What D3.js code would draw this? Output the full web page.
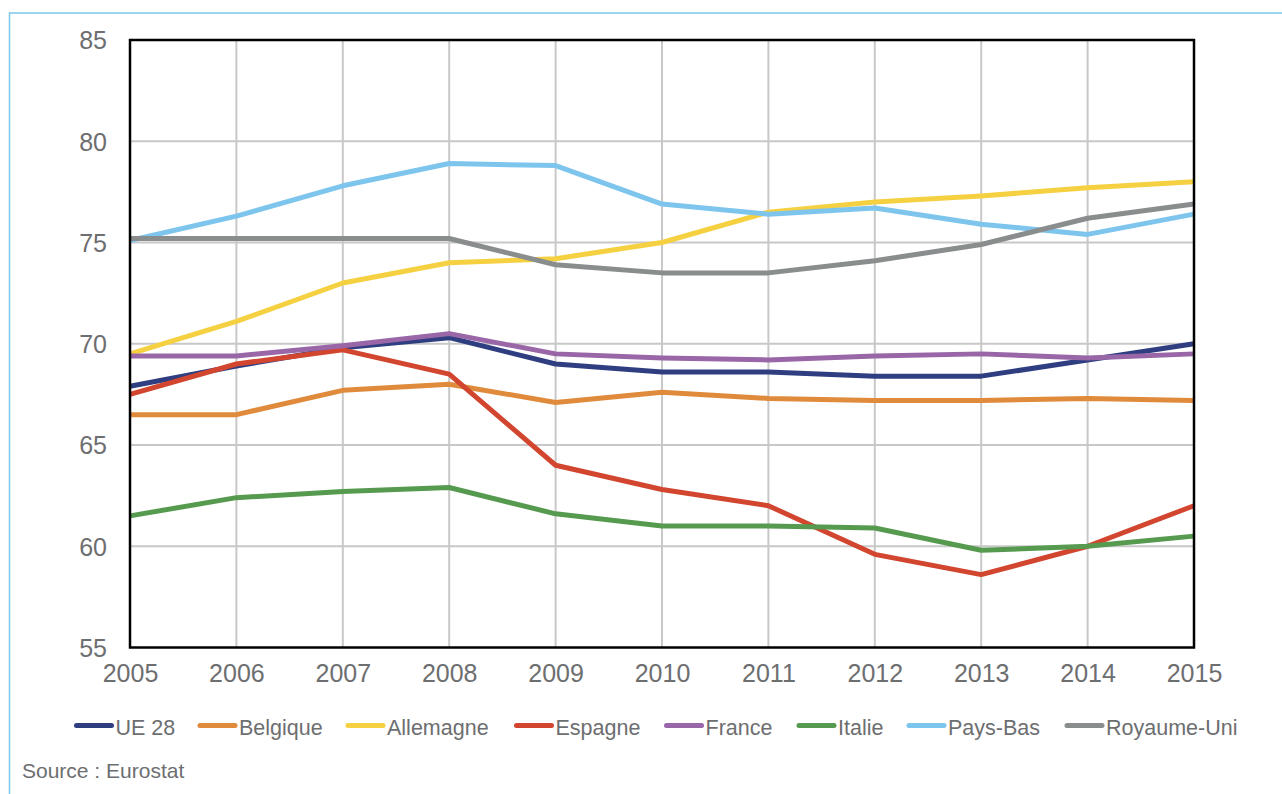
<!DOCTYPE html>
<html><head><meta charset="utf-8">
<script src="https://cdn.jsdelivr.net/npm/d3@7"></script>
<style>
html,body{margin:0;padding:0;background:#fff;}
svg{display:block;font-family:"Liberation Sans",Arial,sans-serif;}
</style></head>
<body>
<svg id="chart" width="1282" height="794"></svg>
<script>
const years = [2005,2006,2007,2008,2009,2010,2011,2012,2013,2014,2015];
const yTicks = [55,60,65,70,75,80,85];
const seriesNames = ["UE 28","Belgique","Allemagne","Espagne","France","Italie","Pays-Bas","Royaume-Uni"];
const seriesColors = ["#2f3e80","#e08a3b","#f5d142","#d2452f","#9966a8","#569a4f","#7ec5ee","#8a8d8d"];
const ue28      = [67.9,68.9,69.8,70.3,69.0,68.6,68.6,68.4,68.4,69.2,70.0];
const belgique  = [66.5,66.5,67.7,68.0,67.1,67.6,67.3,67.2,67.2,67.3,67.2];
const allemagne = [69.5,71.1,73.0,74.0,74.2,75.0,76.5,77.0,77.3,77.7,78.0];
const espagne   = [67.5,69.0,69.7,68.5,64.0,62.8,62.0,59.6,58.6,60.0,62.0];
const france    = [69.4,69.4,69.9,70.5,69.5,69.3,69.2,69.4,69.5,69.3,69.5];
const italie    = [61.5,62.4,62.7,62.9,61.6,61.0,61.0,60.9,59.8,60.0,60.5];
const paysBas   = [75.1,76.3,77.8,78.9,78.8,76.9,76.4,76.7,75.9,75.4,76.4];
const royaumeUni= [75.2,75.2,75.2,75.2,73.9,73.5,73.5,74.1,74.9,76.2,76.9];
const seriesValues = [ue28,belgique,allemagne,espagne,france,italie,paysBas,royaumeUni];
const sourceText = "Source : Eurostat";

const svg = d3.select("#chart");
const textColor = "#6d6e70";
const L = 130, R = 1194, T = 40, B = 647.5;
const x = d3.scaleLinear().domain([2005,2015]).range([L,R]);
const y = d3.scaleLinear().domain([55,85]).range([B,T]);

// outer frame
svg.append("path").attr("d", `M9.5,794 L9.5,13 L1282,13`)
  .attr("fill","none").attr("stroke","#7cc8e8").attr("stroke-width",1.5);

// grid
const g = svg.append("g");
g.selectAll(".hg").data(yTicks.slice(1,-1)).join("line")
  .attr("x1",L).attr("x2",R).attr("y1",d=>y(d)).attr("y2",d=>y(d))
  .attr("stroke","#c8c8c8").attr("stroke-width",2);
g.selectAll(".vg").data(years.slice(1,-1)).join("line")
  .attr("y1",T).attr("y2",B).attr("x1",d=>x(d)).attr("x2",d=>x(d))
  .attr("stroke","#c8c8c8").attr("stroke-width",2);

// lines
const line = d3.line().x((d,i)=>x(years[i])).y(d=>y(d));
seriesValues.forEach((vals,k)=>{
  svg.append("path").datum(vals).attr("d",line)
    .attr("fill","none").attr("stroke",seriesColors[k]).attr("stroke-width",5)
    .attr("stroke-linejoin","round").attr("stroke-linecap","butt");
});

// plot frame
svg.append("rect").attr("x",L).attr("y",T).attr("width",R-L).attr("height",B-T)
  .attr("fill","none").attr("stroke","#000").attr("stroke-width",2.5);

// axes labels
const yAxis = d3.axisLeft(y).tickValues(yTicks).tickSize(0).tickPadding(0);
const ya = svg.append("g").attr("transform",`translate(107,0)`).call(yAxis);
ya.select(".domain").remove();
ya.selectAll("text").attr("fill",textColor).style("font-size","25px")
  .attr("x",0).attr("dy","0.35em").style("font-family","Liberation Sans, Arial, sans-serif");

const xAxis = d3.axisBottom(x).tickValues(years).tickFormat(d3.format("d")).tickSize(0).tickPadding(0);
const xa = svg.append("g").attr("transform",`translate(0,${B+26})`).call(xAxis);
xa.select(".domain").remove();
xa.selectAll("text").attr("fill",textColor).style("font-size","25px")
  .attr("y",0).attr("dy","0.35em").style("font-family","Liberation Sans, Arial, sans-serif");

// legend
const legendX = [74.5,198,346,514.5,664.5,797,907,1065];
const leg = svg.append("g");
seriesNames.forEach((n,k)=>{
  const lx = legendX[k];
  leg.append("line").attr("x1",lx+2).attr("x2",lx+37).attr("y1",725.5).attr("y2",725.5)
    .attr("stroke",seriesColors[k]).attr("stroke-width",5).attr("stroke-linecap","round");
  leg.append("text").attr("x",lx+41).attr("y",727).attr("dy","0.35em")
    .attr("fill",textColor).style("font-size","21.5px").text(n);
});

svg.append("text").attr("x",22).attr("y",771).attr("dy","0.35em")
  .attr("fill",textColor).style("font-size","21px").text(sourceText);
</script>
</body></html>
